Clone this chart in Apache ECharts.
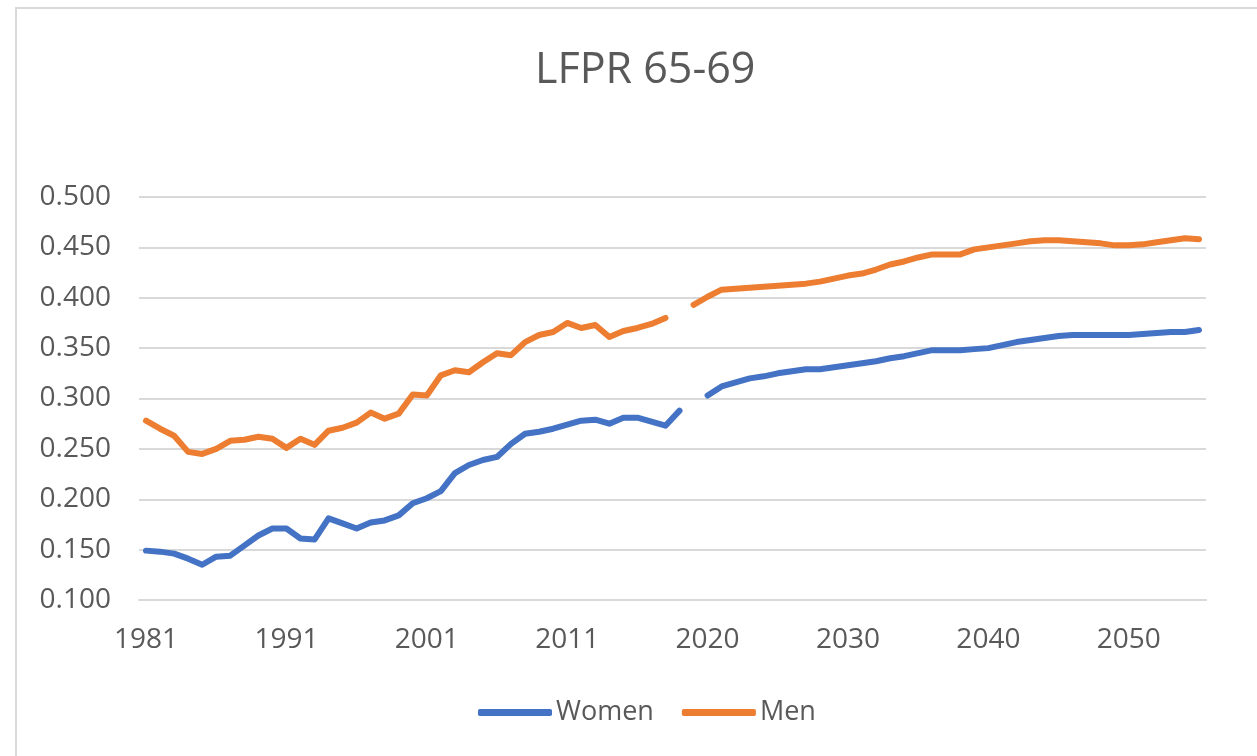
<!DOCTYPE html>
<html>
<head>
<meta charset="utf-8">
<title>LFPR 65-69</title>
<script src="https://cdn.jsdelivr.net/npm/echarts@6/dist/echarts.min.js"></script>
<style>
  html, body { margin: 0; padding: 0; background: #fff; }
  #frame {
    position: absolute; left: 15px; top: 7px; width: 1300px; height: 800px;
    border-left: 2px solid #d9d9d9; border-top: 2px solid #d9d9d9;
  }
  #chart { position: absolute; left: 0; top: 0; width: 1257px; height: 756px; }
</style>
</head>
<body>
<div id="frame"></div>
<div id="chart"></div>
<script>
// 年份（2019 出现两次：历史段末尾 + 预测段起点）
const years = [
  '1981', '1982', '1983', '1984', '1985', '1986', '1987', '1988', '1989', '1990',
  '1991', '1992', '1993', '1994', '1995', '1996', '1997', '1998', '1999', '2000',
  '2001', '2002', '2003', '2004', '2005', '2006', '2007', '2008', '2009', '2010',
  '2011', '2012', '2013', '2014', '2015', '2016', '2017', '2018', '2019', '2019',
  '2020', '2021', '2022', '2023', '2024', '2025', '2026', '2027', '2028', '2029',
  '2030', '2031', '2032', '2033', '2034', '2035', '2036', '2037', '2038', '2039',
  '2040', '2041', '2042', '2043', '2044', '2045', '2046', '2047', '2048', '2049',
  '2050', '2051', '2052', '2053', '2054', '2055'
];

// Women
const women = [
  0.149, 0.148, 0.146, 0.141, 0.135, 0.143, 0.144, 0.154, 0.164, 0.171,
  0.171, 0.161, 0.160, 0.181, 0.176, 0.171, 0.177, 0.179, 0.184, 0.196,
  0.201, 0.208, 0.226, 0.234, 0.239, 0.242, 0.255, 0.265, 0.267, 0.270,
  0.274, 0.278, 0.279, 0.275, 0.281, 0.281, 0.277, 0.273, 0.288, null,
  0.303, 0.312, 0.316, 0.320, 0.322, 0.325, 0.327, 0.329, 0.329, 0.331,
  0.333, 0.335, 0.337, 0.340, 0.342, 0.345, 0.348, 0.348, 0.348, 0.349,
  0.350, 0.353, 0.356, 0.358, 0.360, 0.362, 0.363, 0.363, 0.363, 0.363,
  0.363, 0.364, 0.365, 0.366, 0.366, 0.368
];

// Men
const men = [
  0.278, 0.270, 0.263, 0.247, 0.245, 0.250, 0.258, 0.259, 0.262, 0.260,
  0.251, 0.260, 0.254, 0.268, 0.271, 0.276, 0.286, 0.280, 0.285, 0.304,
  0.303, 0.323, 0.328, 0.326, 0.336, 0.345, 0.343, 0.356, 0.363, 0.366,
  0.375, 0.370, 0.373, 0.361, 0.367, 0.370, 0.374, 0.380, null, 0.393,
  0.401, 0.408, 0.409, 0.410, 0.411, 0.412, 0.413, 0.414, 0.416, 0.419,
  0.422, 0.424, 0.428, 0.433, 0.436, 0.440, 0.443, 0.443, 0.443, 0.448,
  0.450, 0.452, 0.454, 0.456, 0.457, 0.457, 0.456, 0.455, 0.454, 0.452,
  0.452, 0.453, 0.455, 0.457, 0.459, 0.458
];

const textColor = '#595959';
const gridColor = '#d9d9d9';
const font = '"Open Sans", "Noto Sans", sans-serif';

const chart = echarts.init(document.getElementById('chart'));
chart.setOption({
  backgroundColor: 'transparent',
  animation: false,
  title: {
    text: 'LFPR 65-69',
    left: 530,
    top: 44,
    textStyle: { color: textColor, fontSize: 43, fontWeight: 'normal', fontFamily: font }
  },
  legend: {
    bottom: 25,
    left: 473,
    icon: 'roundRect',
    itemWidth: 74,
    itemHeight: 7,
    itemGap: 28,
    textStyle: { color: textColor, fontSize: 27, fontFamily: font, padding: [0, 0, 0, -1] },
    data: ['Women', 'Men']
  },
  grid: { left: 139, right: 51, top: 197, bottom: 156 },
  xAxis: {
    type: 'category',
    data: years,
    boundaryGap: true,
    axisLine: { lineStyle: { color: gridColor, width: 2 } },
    axisTick: { show: false },
    axisLabel: { interval: 9, color: textColor, fontSize: 28, fontFamily: font, margin: 26 }
  },
  yAxis: {
    type: 'value',
    min: 0.1,
    max: 0.5,
    interval: 0.05,
    axisLine: { show: false },
    axisTick: { show: false },
    splitLine: { lineStyle: { color: gridColor, width: 2 } },
    axisLabel: {
      color: textColor, fontSize: 28, fontFamily: font, margin: 28,
      formatter: v => v.toFixed(3)
    }
  },
  series: [
    {
      name: 'Women',
      type: 'line',
      data: women,
      symbol: 'none',
      itemStyle: { color: '#4472C4' },
      lineStyle: { color: '#4472C4', width: 6, cap: 'round', join: 'round' }
    },
    {
      name: 'Men',
      type: 'line',
      data: men,
      symbol: 'none',
      itemStyle: { color: '#ED7D31' },
      lineStyle: { color: '#ED7D31', width: 6, cap: 'round', join: 'round' }
    }
  ]
});
</script>
</body>
</html>
